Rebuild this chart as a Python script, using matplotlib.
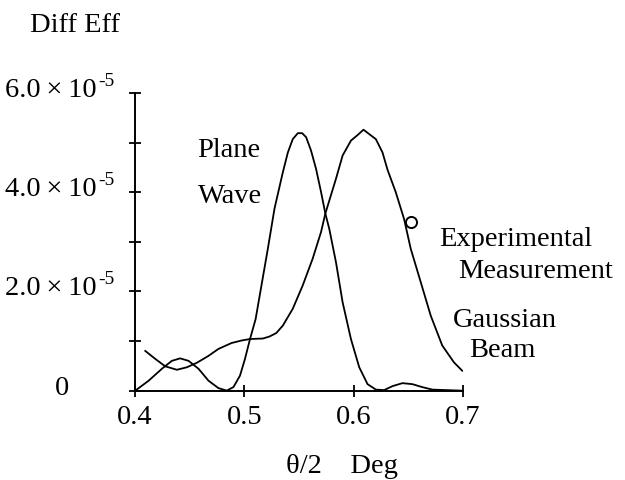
import numpy as np
import matplotlib
matplotlib.use("Agg")
import matplotlib.pyplot as plt
from matplotlib.transforms import offset_copy

plt.rcParams.update({
    "font.family": ["Liberation Serif", "DejaVu Serif"],
    "font.size": 20.5,
})

# ---- data (x in degrees, y in units of 1e-5) ----
plane_x = [0.4003, 0.4125, 0.4246, 0.4337, 0.4413, 0.4490, 0.4581, 0.4672,
           0.4763, 0.4839, 0.4900, 0.4960, 0.5006, 0.5052, 0.5103, 0.5215,
           0.5276, 0.5352, 0.5398, 0.5443, 0.5489, 0.5529, 0.5565, 0.5610,
           0.5656, 0.5702, 0.5741, 0.5777, 0.5838, 0.5899, 0.5975, 0.6051,
           0.6127, 0.6203, 0.6279, 0.6355, 0.6446, 0.6537, 0.6628, 0.6719,
           0.6980]
plane_y = [0.00, 0.20, 0.44, 0.60, 0.65, 0.60, 0.44, 0.20,
           0.05, 0.00, 0.07, 0.30, 0.64, 1.04, 1.44, 2.86,
           3.67, 4.40, 4.80, 5.07, 5.19, 5.19, 5.11, 4.84,
           4.47, 4.00, 3.57, 3.26, 2.59, 1.78, 1.04, 0.47,
           0.13, 0.02, 0.01, 0.09, 0.15, 0.13, 0.07, 0.02,
           0.00]

gauss_x = [0.4094, 0.4185, 0.4276, 0.4383, 0.4474, 0.4565, 0.4672, 0.4763,
           0.4884, 0.4975, 0.5052, 0.5170, 0.5230, 0.5292, 0.5352, 0.5443,
           0.5534, 0.5625, 0.5702, 0.5741, 0.5838, 0.5899, 0.5975, 0.6035,
           0.6090, 0.6143, 0.6203, 0.6264, 0.6310, 0.6385, 0.6461, 0.6522,
           0.6613, 0.6705, 0.6810, 0.6917, 0.6993]
gauss_y = [0.80, 0.64, 0.49, 0.42, 0.47, 0.56, 0.70, 0.84,
           0.96, 1.01, 1.04, 1.05, 1.09, 1.16, 1.31, 1.65,
           2.12, 2.66, 3.20, 3.57, 4.27, 4.74, 5.04, 5.15,
           5.26, 5.17, 5.07, 4.80, 4.45, 4.00, 3.46, 2.86,
           2.19, 1.51, 0.91, 0.57, 0.40]

meas_x = [0.6522]
meas_y = [3.40]

ytick_vals = [0, 1, 2, 3, 4, 5, 6]
ylabel_vals = [2, 4, 6]
ylabel_main = ["2.0\u2009×\u200910", "4.0\u2009×\u200910", "6.0\u2009×\u200910"]
ylabel_exp = "-5"
xtick_vals = [0.4, 0.5, 0.6, 0.7]
xtick_txt = ["0.4", "0.5", "0.6", "0.7"]

scale = 1e-5

fig = plt.figure(figsize=(6.25, 4.81), dpi=100)
ax = fig.add_axes([135 / 625, 1 - 391.6 / 481, 328 / 625, 297.6 / 481])

line_kw = dict(color="k", lw=1.3, solid_joinstyle="round")
ax.plot(plane_x, np.array(plane_y) * scale, **line_kw)
ax.plot(gauss_x, np.array(gauss_y) * scale, **line_kw)
ax.plot(meas_x, np.array(meas_y) * scale, ls="none", marker="o",
        ms=8, mfc="none", mec="k", mew=1.4)

ax.set_xlim(0.4, 0.7)
ax.set_ylim(0, 6 * scale)
for s in ("top", "right"):
    ax.spines[s].set_visible(False)
for s in ("left", "bottom"):
    ax.spines[s].set_linewidth(1.4)

ax.set_yticks([v * scale for v in ytick_vals])
ax.set_yticklabels([])
ax.set_xticks(xtick_vals)
ax.set_xticklabels(xtick_txt)
ax.tick_params(direction="inout", length=8, width=1.3, pad=6)

# y tick labels: "n.0 x 10" with a small raised "-5", baseline just below tick
ytr = ax.get_yaxis_transform()
base_tr = offset_copy(ytr, fig=fig, x=0, y=-3, units="dots")
sup_tr = offset_copy(ytr, fig=fig, x=1, y=8, units="dots")
ax.text(-0.2226, 0, "0", transform=base_tr, ha="center", va="baseline")
for v, t in zip(ylabel_vals, ylabel_main):
    ax.text(-0.1159, v * scale, t, transform=base_tr, ha="right",
            va="baseline")
    ax.text(-0.1159, v * scale, ylabel_exp, transform=sup_tr, ha="left",
            va="baseline", fontsize=14)

fig.text(30 / 625, 1 - 31.5 / 481, "Diff Eff", ha="left", va="baseline")
fig.text(342 / 625, 1 - 473 / 481, "θ/2    Deg", ha="center", va="baseline")

# curve annotations
ax.text(0.4565, 4.73 * scale, "Plane", va="baseline")
ax.text(0.4580, 3.80 * scale, "Wave", va="baseline")
ax.text(0.6780, 2.93 * scale, "Experimental", va="baseline")
ax.text(0.6960, 2.29 * scale, "Measurement", va="baseline")
ax.text(0.6907, 1.30 * scale, "Gaussian", va="baseline")
ax.text(0.7060, 0.70 * scale, "Beam", va="baseline")

fig.savefig("out.png", dpi=100)
